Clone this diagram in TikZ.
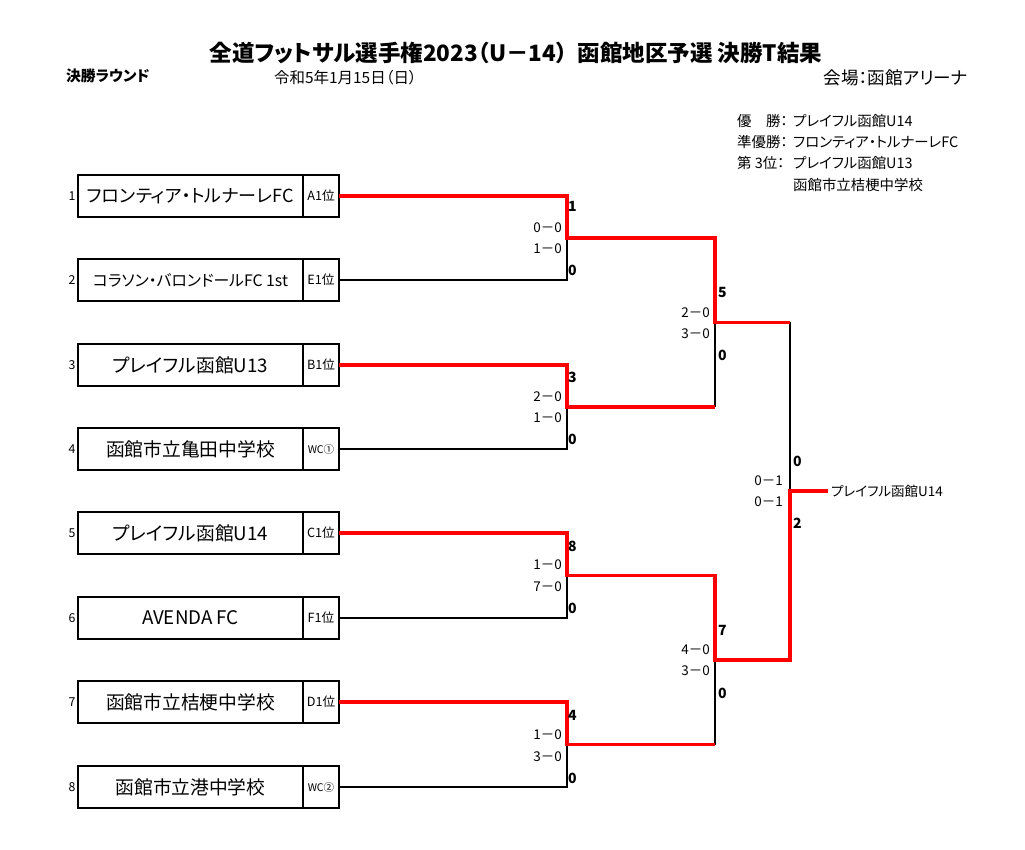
\documentclass[tikz,border=0pt]{standalone}
\usepackage{fontspec}
\setmainfont{Noto Sans CJK JP}[RawFeature=+palt]
\usetikzlibrary{positioning}

\newcommand{\fsz}[1]{\fontsize{#1}{#1}\selectfont}

\begin{document}
\begin{tikzpicture}[x=0.03cm, y=-0.03cm,
	team/.style={draw, line width=1.5pt, minimum width=6.75cm, minimum height=1.26cm, inner sep=0pt, outer sep=0pt, font=\fsz{16}},
	seed/.style={draw, line width=1.5pt, minimum width=1.08cm, minimum height=1.26cm, inner sep=0pt, outer sep=0pt, font=\fsz{10.8}},
	num/.style={inner sep=0pt, font=\fsz{10.5}},
	win/.style={red, line width=2.8pt},
	lose/.style={black, line width=1.4pt},
	score/.style={anchor=east, inner sep=0pt, font=\fsz{11.5}},
	pts/.style={anchor=west, inner sep=0pt, font=\bfseries\fsz{12}},
	info/.style={anchor=west, inner sep=0pt, font=\fsz{12.3}}
	]
	\useasboundingbox (0,0) rectangle (1025,850);

	\node[font=\bfseries\fsz{19.2}] at (516,53) (title) {全道フットサル選手権2023（U－14）\ \ 函館地区予選 決勝T結果};
	\node[anchor=west, font=\bfseries\fsz{12.6}] at (62,76) (round) {決勝ラウンド};
	\node[anchor=west, font=\fsz{13.2}] at (270,78) (date) {令和5年1月15日（日）};
	\node[anchor=east, font=\fsz{15}] at (972,78) (venue) {会場：函館アリーナ};

	\node[info] at (737,121) (r1) {優　勝：};
	\node[info] at (737,142) (r2) {準優勝：};
	\node[info] at (737,163) (r3) {第 3位：};
	\node[info] at (793,121) (v1) {プレイフル函館U14};
	\node[info] at (793,142) (v2) {フロンティア・トルナーレFC};
	\node[info] at (793,163) (v3) {プレイフル函館U13};
	\node[info] at (793,185) (v4) {函館市立桔梗中学校};

	\node[team, font=\fsz{15.4}] at (190.5,196) (t1) {フロンティア・トルナーレFC};
	\node[team, font=\fsz{13.5}] at (190.5,280) (t2) {コラソン・バロンドールFC 1st};
	\node[team] at (190.5,365) (t3) {プレイフル函館U13};
	\node[team] at (190.5,449) (t4) {函館市立亀田中学校};
	\node[team] at (190.5,533) (t5) {プレイフル函館U14};
	\node[team] at (190.5,618) (t6) {AVENDA FC};
	\node[team] at (190.5,702) (t7) {函館市立桔梗中学校};
	\node[team] at (190.5,787) (t8) {函館市立港中学校};

	\node[seed, right=0pt of t1] (s1) {A1位};
	\node[seed, right=0pt of t2] (s2) {E1位};
	\node[seed, right=0pt of t3] (s3) {B1位};
	\node[seed, right=0pt of t4, font=\fsz{9}] (s4) {WC①};
	\node[seed, right=0pt of t5] (s5) {C1位};
	\node[seed, right=0pt of t6] (s6) {F1位};
	\node[seed, right=0pt of t7] (s7) {D1位};
	\node[seed, right=0pt of t8, font=\fsz{9}] (s8) {WC②};

	\node[num] at (72,196) (n1) {1};
	\node[num] at (72,280) (n2) {2};
	\node[num] at (72,365) (n3) {3};
	\node[num] at (72,449) (n4) {4};
	\node[num] at (72,533) (n5) {5};
	\node[num] at (72,618) (n6) {6};
	\node[num] at (72,702) (n7) {7};
	\node[num] at (72,787) (n8) {8};

	\coordinate (m1) at (567,238);
	\coordinate (m2) at (567,407);
	\coordinate (m3) at (567,575.5);
	\coordinate (m4) at (567,744.5);
	\coordinate (h1) at (715,322.5);
	\coordinate (h2) at (715,660);
	\coordinate (f) at (790,491);
	\node[anchor=west, inner sep=2.5pt, font=\fsz{11.5}] at (828,491) (ch) {プレイフル函館U14};

	\begin{scope}[line join=miter]
		\draw[lose] (s2.east) -| (m1);
		\draw[lose] (s4.east) -| (m2);
		\draw[lose] (s6.east) -| (m3);
		\draw[lose] (s8.east) -| (m4);
		\draw[lose] (m2 -| h1) -- (h1);
		\draw[lose] (m4 -| h2) -- (h2);
		\draw[lose] (h1 -| f) -- (f);

		\draw[win] (s1.east) -| (m1) -| (h1) -- (h1 -| f);
		\draw[win] (s3.east) -| (m2) -- (m2 -| h1);
		\draw[win] (s5.east) -| (m3) -| (h2) -| (f) -- (ch.west);
		\draw[win] (s7.east) -| (m4) -- (m4 -| h2);
	\end{scope}

	\node[pts] at (568,206) {1};
	\node[score] at (562,228) {0－0};
	\node[score] at (562,249) {1－0};
	\node[pts] at (568,270) {0};

	\node[pts] at (568,377) {3};
	\node[score] at (562,397) {2－0};
	\node[score] at (562,418) {1－0};
	\node[pts] at (568,439) {0};

	\node[pts] at (568,546) {8};
	\node[score] at (562,565) {1－0};
	\node[score] at (562,587) {7－0};
	\node[pts] at (568,608) {0};

	\node[pts] at (568,715) {4};
	\node[score] at (562,735) {1－0};
	\node[score] at (562,757) {3－0};
	\node[pts] at (568,778) {0};

	\node[pts] at (718,292) {5};
	\node[score] at (710,313) {2－0};
	\node[score] at (710,334) {3－0};
	\node[pts] at (718,355) {0};

	\node[pts] at (718,630) {7};
	\node[score] at (710,650) {4－0};
	\node[score] at (710,671) {3－0};
	\node[pts] at (718,693) {0};

	\node[pts] at (793,461) {0};
	\node[score] at (783,481) {0－1};
	\node[score] at (783,502) {0－1};
	\node[pts] at (793,523) {2};
\end{tikzpicture}
\end{document}
